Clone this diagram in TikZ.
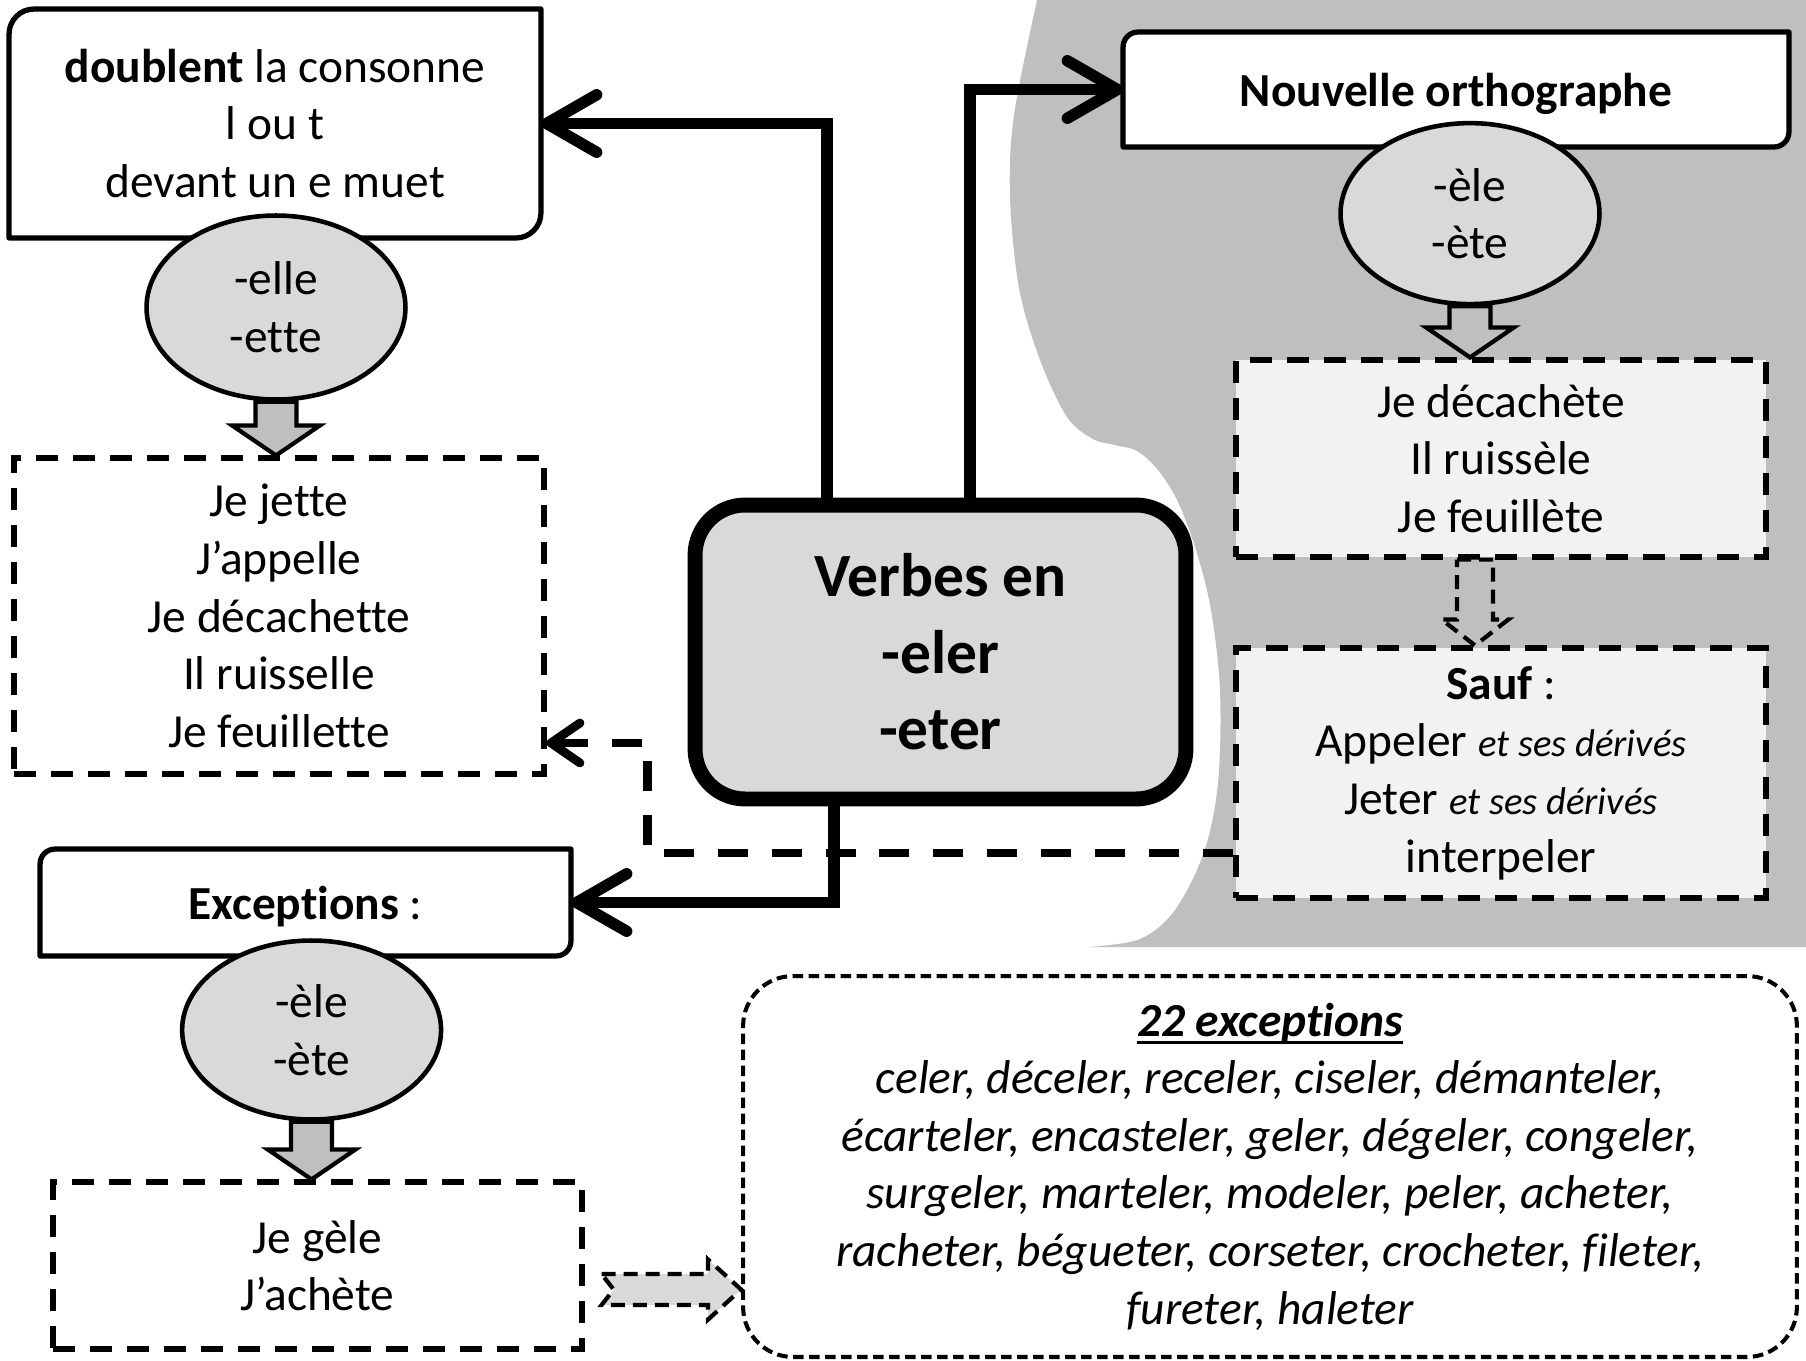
\documentclass[tikz,border=0pt]{standalone}
\usepackage{fontspec}
\setmainfont[Ligatures=NoCommon]{Carlito}
\usetikzlibrary{shapes.geometric,arrows.meta,calc}

\definecolor{shadegray}{HTML}{BFBFBF}
\definecolor{bubblegray}{HTML}{D9D9D9}
\definecolor{palegray}{HTML}{F2F2F2}

\pgfdeclarelayer{back}
\pgfdeclarelayer{frames}
\pgfsetlayers{back,frames,main}

\newcommand{\heavyul}[1]{\setbox0\hbox{#1}\rlap{\rule[-0.16em]{\wd0}{1.4pt}}\box0}

\tikzset{
	txt/.style={font=\fontsize{27}{32.8}\selectfont, align=center},
	rulebox/.style={txt, inner sep=0pt, outer sep=0pt},
	suffix/.style={txt, ellipse, draw, line width=2.6pt, fill=bubblegray, inner sep=0pt, minimum width=5.18cm},
	examples/.style={txt, draw, line width=3pt, dash pattern=on 0.44cm off 0.3cm, inner sep=0pt},
	mainlink/.style={line width=6.5pt, -{Straight Barb[length=1cm,width=1.15cm,round]}},
	dashlink/.style={line width=5pt, dash pattern=on 0.6cm off 0.48cm, -{Straight Barb[length=0.58cm,width=0.8cm,round]}},
	blockarrow/.style={draw, line width=2.4pt, fill=shadegray, line join=miter},
	dashblock/.style={blockarrow, dash pattern=on 0.28cm off 0.16cm}
}

\newcommand{\diagframe}[2]{%
	\begin{pgfonlayer}{frames}
		\draw[line width=3pt, fill=white, line join=round] (#2.north east) -- ([yshift=#1]#2.south east)
			arc[start angle=0, end angle=-90, radius=#1] -- (#2.south west)
			-- ([yshift=-#1]#2.north west)
			arc[start angle=180, end angle=90, radius=#1] -- cycle;
	\end{pgfonlayer}}

\newcommand{\downblock}[2]{%
	\draw[blockarrow] let \p1=(#1.south), \p2=(#2.north) in
		(\x1-0.41cm,\y1) -- (\x1+0.41cm,\y1) -- (\x1+0.41cm,\y2+0.6cm) -- (\x1+0.88cm,\y2+0.6cm)
		-- (\x1,\y2) -- (\x1-0.88cm,\y2+0.6cm) -- (\x1-0.41cm,\y2+0.6cm) -- cycle;}

\begin{document}
\begin{tikzpicture}[x=0.02cm, y=-0.02cm]
	\useasboundingbox (0,0) rectangle (1806,1360);

	\begin{pgfonlayer}{back}
		\fill[shadegray] plot[smooth, tension=0.55] coordinates {(1037,0) (1014,115) (1010,196) (1019,288) (1040,360) (1067,417) (1093,439) (1115,445)
			(1137,451) (1158,470) (1178,502) (1196,550) (1211,610) (1220,691) (1218,783) (1204,852) (1175,910) (1140,939) (1088,947)}
			-- (1806,947) -- (1806,0) -- cycle;
	\end{pgfonlayer}

	\node[rulebox, minimum width=10.64cm, minimum height=4.58cm] (dbox) at (275,123.5) {\textbf{doublent} la consonne\\l ou t\\devant un e muet};
	\diagframe{0.5cm}{dbox}
	\node[suffix, minimum height=3.68cm] (e1) at (276,307.5) {-elle\\-ette};
	\node[examples, minimum width=10.6cm, minimum height=6.32cm] (jette) at (279,616) {Je jette\\J’appelle\\Je décachette\\Il ruisselle\\Je feuillette};

	\node[draw, line width=8.5pt, rounded corners=1cm, fill=bubblegray, minimum width=9.82cm, minimum height=5.88cm,
		font=\bfseries\fontsize{35}{43.5}\selectfont, align=center] (verb) at (940.5,652) {Verbes en\\-eler\\-eter};

	\node[rulebox, text depth=0pt, minimum width=13.32cm, minimum height=2.3cm] (nbox) at (1456,89.5) {\textbf{Nouvelle orthographe}};
	\diagframe{0.3cm}{nbox}
	\node[suffix, minimum height=3.62cm] (e2) at (1470,213.6) {-èle\\-ète};
	\node[examples, fill=palegray, minimum width=10.6cm, minimum height=3.94cm] (decach) at (1501,458.5) {Je décachète\\Il ruissèle\\Je feuillète};
	\node[examples, fill=palegray, minimum width=10.6cm, minimum height=5cm] (sauf) at (1501,773)
		{\textbf{Sauf} :\\Appeler {\itshape\fontsize{22}{32.8}\selectfont et ses dérivés}\\Jeter {\itshape\fontsize{22}{32.8}\selectfont et ses dérivés}\\interpeler};

	\node[rulebox, text depth=0pt, minimum width=10.62cm, minimum height=2.14cm] (exc) at (305.5,902.5) {\textbf{Exceptions} :};
	\diagframe{0.3cm}{exc}
	\node[suffix, minimum height=3.58cm] (e3) at (311.6,1030) {-èle\\-ète};
	\node[examples, minimum width=10.58cm, minimum height=3.34cm] (gele) at (317.5,1265.5) {Je gèle\\J’achète};

	\node[txt, draw, line width=2.3pt, dash pattern=on 0.21cm off 0.11cm, rounded corners=1cm, inner sep=0pt,
		minimum width=21.08cm, minimum height=7.62cm, font=\itshape\fontsize{27}{32.8}\selectfont] (list) at (1270,1166.5)
		{\heavyul{\textbf{22 exceptions}}\\celer, déceler, receler, ciseler, démanteler,\\écarteler, encasteler, geler, dégeler, congeler,\\surgeler, marteler, modeler, peler, acheter,\\racheter, bégueter, corseter, crocheter, fileter,\\fureter, haleter};

	\draw[mainlink] ([xshift=-2.27cm]verb.north) |- (dbox.east);
	\draw[mainlink] ([xshift=0.59cm]verb.north) |- (nbox.west);
	\draw[mainlink] ([xshift=-2.13cm]verb.south) |- (exc.east);
	\draw[dashlink] ([yshift=-1.6cm]sauf.west) -| ([xshift=2.02cm,yshift=-2.54cm]jette.east) -- ([yshift=-2.54cm]jette.east);

	\downblock{e1}{jette}
	\downblock{e2}{decach}
	\downblock{e3}{gele}
	\draw[dashblock] let \p1=(decach.south), \p2=(sauf.north) in
		(\x1-0.88cm,\y1) -- (\x1-0.16cm,\y1) -- (\x1-0.16cm,\y2+0.52cm) -- (\x1+0.15cm,\y2+0.52cm)
		-- (\x1-0.52cm,\y2) -- (\x1-1.19cm,\y2+0.52cm) -- (\x1-0.88cm,\y2+0.52cm) -- cycle;
	\draw[dashblock, fill=bubblegray] let \p1=(gele.east), \p2=(list.west) in
		(\x1+0.34cm,\y1-0.17cm) -- (\x2-0.66cm,\y1-0.17cm) -- (\x2-0.66cm,\y1+0.12cm) -- (\x2,\y1-0.48cm)
		-- (\x2-0.66cm,\y1-1.08cm) -- (\x2-0.66cm,\y1-0.79cm) -- (\x1+0.34cm,\y1-0.79cm) -- (\x1+0.58cm,\y1-0.48cm) -- cycle;
\end{tikzpicture}
\end{document}
